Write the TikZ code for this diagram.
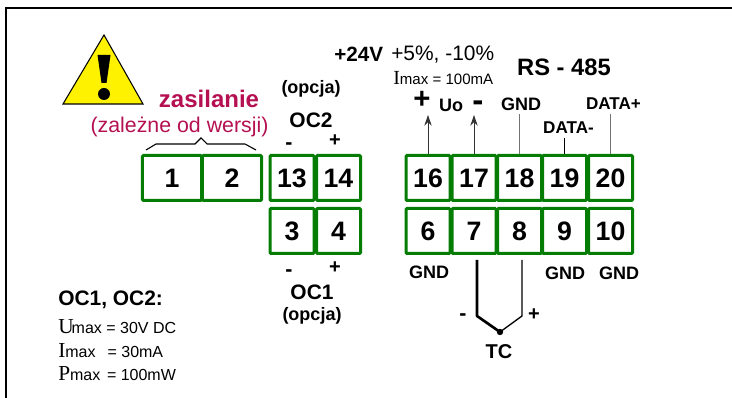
\documentclass[tikz,border=0pt]{standalone}
\usepackage{fontspec}
\usetikzlibrary{arrows.meta}
\setmainfont{Liberation Sans}
\newfontfamily\serifrm{Liberation Serif}
\newcommand{\fsz}[1]{\fontsize{#1}{#1}\selectfont}
\definecolor{termgreen}{RGB}{5,125,5}
\definecolor{supply}{RGB}{181,16,82}
\tikzset{
    terminal/.style={draw=termgreen, line width=2.25pt, rounded corners=0.8pt, minimum height=33.75pt, inner sep=0pt, font=\fsz{20}\bfseries},
    lbl/.style={inner sep=0pt, font=\fsz{#1}\bfseries},
    lbl/.default=13.5,
    plain/.style={inner sep=0pt, font=\fsz{#1}},
    spec/.style={inner sep=0pt, anchor=west, font=\fsz{12}}
}
\begin{document}
\begin{tikzpicture}[x=0.75pt, y=-0.75pt]
    \useasboundingbox (0,0) rectangle (732,398);
    \draw[line width=2.2pt, line cap=rect] (6,398) -- (6,8) -- (732,8);
    % warning sign
    \draw[fill=yellow, line width=0.8pt, line join=miter] (104,35) -- (143,104) -- (63,104) -- cycle;
    \fill (97.5,55) -- (110.5,55) -- (106.5,83) -- (101.5,83) -- cycle;
    \fill (104,94) circle (4.5pt);
    % terminals
    \node[terminal, minimum width=44.5pt] (t1) at (172,178) {1};
    \node[terminal, minimum width=44.5pt] (t2) at (232,178) {2};
    \foreach \n/\x in {13/292,14/338.5,16/428,17/474,18/519.5,19/564.5,20/610.5}
        \node[terminal, minimum width=33pt] (t\n) at (\x,178) {\n};
    \foreach \n/\x in {3/292,4/338.5,6/428,7/474,8/519.5,9/564.5,10/610.5}
        \node[terminal, minimum width=33pt] (t\n) at (\x,231) {\n};
    % supply
    \node[lbl=18, text=supply] (supplyname) at (209,99) {zasilanie};
    \node[plain=16, text=supply] (supplynote) at (179.5,127) {(zależne od wersji)};
    \draw[line width=0.8pt] (146,150) -- (156,144) -- (195,144) -- (201,138) -- (207,144) -- (245,144) -- (256,150);
    % OC outputs
    \node[lbl] (opcja2) at (311,89) {(opcja)};
    \node[lbl=15.7] (oc2) at (311,120) {OC2};
    \node[lbl=16] (oc2m) at (289,146) {-};
    \node[lbl=15] (oc2p) at (335,141) {+};
    \node[lbl=16] (oc1m) at (289,273) {-};
    \node[lbl=15] (oc1p) at (335,268) {+};
    \node[lbl=15.7] (oc1) at (312,292) {OC1};
    \node[lbl] (opcja1) at (312,316) {(opcja)};
    \node[lbl=15.7, anchor=west] (ocspec) at (58,300) {OC1, OC2:};
    \node[spec] (umax) at (58,327) {{\serifrm\fsz{16}U}\hspace{-1.5pt}max = 30V DC};
    \node[spec] (imax) at (58,351) {{\serifrm\fsz{16}I}max\hspace{9pt}= 30mA};
    \node[spec] (pmax) at (58,374) {{\serifrm\fsz{16}P}max\hspace{5pt}= 100mW};
    % output voltage
    \node[lbl=15.5, anchor=west] (v24) at (334,54) {+24V};
    \node[plain=15.7, anchor=west] (vtol) at (391,55) {+5\%, -10\%};
    \node[spec, font=\fsz{11.3}] (ilim) at (393,78) {{\serifrm\fsz{15}I}max = 100mA};
    \node[lbl=22] (uplus) at (422,100) {+};
    \node[lbl=13.5] (uo) at (451,105) {Uo};
    \node[lbl=25] (uminus) at (478,106) {-};
    \coordinate (a16) at (428,115);
    \coordinate (a17) at (474,115);
    \draw[-{Stealth[length=8pt,width=5.5pt]}, line width=0.7pt, black!80] (t16.north) -- (a16);
    \draw[-{Stealth[length=8pt,width=5.5pt]}, line width=0.7pt, black!80] (t17.north) -- (a17);
    % RS-485
    \node[lbl=17.8] (rs) at (564,67) {RS - 485};
    \node[lbl] (gnd18) at (521,104) {GND};
    \node[lbl=12.8] (dplus) at (613.5,104) {DATA+};
    \node[lbl=12.8] (dminus) at (568.5,128) {DATA-};
    \coordinate (a18) at (519.5,114);
    \coordinate (a19) at (564.5,138);
    \coordinate (a20) at (610.5,114);
    \draw[line width=1pt, black!55] (t18.north) -- (a18);
    \draw[line width=0.7pt] (t19.north) -- (a19);
    \draw[line width=1pt, black!55] (t20.north) -- (a20);
    \node[lbl] (gnd6) at (429,272) {GND};
    \node[lbl] (gnd9) at (565,273) {GND};
    \node[lbl] (gnd10) at (619,273) {GND};
    % thermocouple
    \coordinate (tcjoint) at (500,332);
    \draw[line width=2pt, line join=round] (477,260) -- (477,316) -- (tcjoint);
    \draw[line width=1pt, line join=round] (522,260) -- (522,316) -- (tcjoint);
    \fill (tcjoint) circle (2.4pt);
    \node[lbl=16] (tcm) at (463,317) {-};
    \node[lbl=15] (tcp) at (534,315) {+};
    \node[lbl=15] (tc) at (499,352) {TC};
\end{tikzpicture}
\end{document}
